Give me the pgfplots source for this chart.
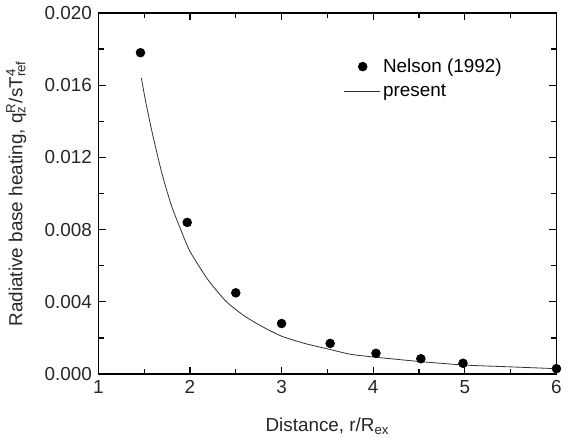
\documentclass[border=0pt]{standalone}
\usepackage{fontspec}
\setmainfont{Liberation Sans}
\usepackage{pgfplots}
\pgfplotsset{compat=1.18}
\pgfplotsset{
	linelegend/.style={legend image code/.code={\draw[##1] (0cm,0cm) -- (0.95cm,0cm);}},
	dotlegend/.style={legend image code/.code={\draw[##1] plot coordinates {(0.5cm,0cm)};}},
}

\begin{document}
\fontsize{14}{16}\selectfont
\begin{tikzpicture}
\begin{axis}[width=340pt,height=268pt,scale only axis,
	xmin=1,xmax=6,ymin=0,ymax=0.020,
	xtick={1,2,3,4,5,6},
	ytick={0,0.004,0.008,0.012,0.016,0.020},
	minor xtick={1.5,2.5,3.5,4.5,5.5},
	minor ytick={0.002,0.006,0.010,0.014,0.018},
	scaled y ticks=false,
	yticklabel style={/pgf/number format/.cd,fixed,fixed zerofill,precision=3},
	/pgf/number format/assume math mode=true,
	tick align=inside,
	major tick length=5.5pt,minor tick length=4pt,
	tick style={black,line width=0.9pt},
	axis line style={line width=0.9pt},
	tick label style={font=\fontsize{14}{16}\selectfont,black!85},
	label style={font=\fontsize{14}{16}\selectfont,black!85},
	xlabel={Distance, r/R\textsubscript{ex}},
	ylabel={Radiative base heating, q\rlap{\textsuperscript{R}}\textsubscript{z}\,/sT\rlap{\textsuperscript{4}}\textsubscript{ref}},
	xlabel style={yshift=-8pt},
	ylabel style={yshift=4pt},
	legend style={draw=none,fill=none,at={(0.525,0.89)},anchor=north west,
		font=\fontsize{14}{16}\selectfont,row sep=3pt,
		nodes={inner xsep=2pt}},
	legend cell align=left]
\addplot[only marks,mark=*,mark size=3.3pt,black,dotlegend] coordinates {
(1.46,0.0178) (1.97,0.0084) (2.50,0.0045) (3.00,0.0028) (3.53,0.0017)
(4.03,0.00115) (4.52,0.00085) (4.98,0.0006) (6.00,0.0003)};
\addlegendentry{Nelson (1992)}
\addplot[no marks,black!80,line width=0.6pt,smooth,tension=0.4,linelegend] coordinates {
(1.47,0.0164) (1.52,0.0150) (1.60,0.0131) (1.70,0.0110) (1.80,0.0093)
(1.90,0.0080) (2.00,0.0068) (2.20,0.0052) (2.40,0.0040) (2.60,0.0032)
(2.80,0.0026) (3.00,0.0021) (3.25,0.0017) (3.50,0.0014) (3.75,0.0011)
(4.00,0.00095) (4.50,0.0007) (5.00,0.0005) (5.50,0.0004) (6.00,0.0003)};
\addlegendentry{present}
\end{axis}
\end{tikzpicture}
\end{document}
